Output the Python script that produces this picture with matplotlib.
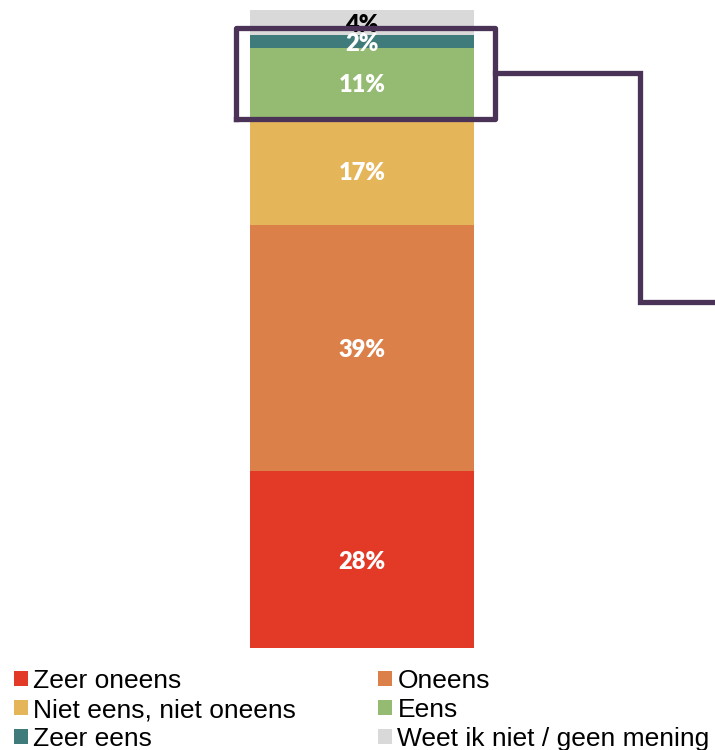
import matplotlib
matplotlib.use('Agg')
import matplotlib.pyplot as plt
from matplotlib.patches import Patch

categories = ['Zeer oneens', 'Oneens', 'Niet eens, niet oneens', 'Eens', 'Zeer eens',
              'Weet ik niet / geen mening']
values = [28, 39, 17, 11, 2, 4]
labels = ['28%', '39%', '17%', '11%', '2%', '4%']
colors = ['#E23A26', '#DC804A', '#E5B55A', '#95BB72', '#3E7B7A', '#D9D9D9']
label_colors = ['white', 'white', 'white', 'white', 'white', 'black']

fig = plt.figure(figsize=(7.15, 7.5), dpi=100)
# bar spans pixel rows 10..648, columns 250..474
ax = fig.add_axes([0, 102 / 750, 1, 638 / 750])
ax.set_xlim(-362 / 224, (715 - 362) / 224)
ax.set_ylim(0, sum(values))
ax.axis('off')

bottom = 0
for v, lab, c, lc in zip(values, labels, colors, label_colors):
    ax.bar(0, v, width=1, bottom=bottom, color=c, edgecolor='none')
    ax.text(0, bottom + v / 2, lab, ha='center', va='center_baseline', color=lc,
            fontsize=17, fontweight='heavy', family='Lato', zorder=5)
    bottom += v

# highlight box around "Eens" + "Zeer eens" and connector line
box_col = '#4B3358'
tot = sum(values)
def py(p):
    return (648 - p) / 638 * tot
def px(p):
    return (p - 362) / 224

bx0, bx1 = px(236), px(495)
by0, by1 = py(119), py(28)
ax.plot([bx0, bx1, bx1, bx0, bx0], [by0, by0, by1, by1, by0], color=box_col,
        lw=3.8, solid_joinstyle='round', clip_on=False, zorder=6)
ax.plot([bx1, px(640), px(640), px(730)], [py(73), py(73), py(302), py(302)],
        color=box_col, lw=3.8, solid_joinstyle='miter', clip_on=False, zorder=6)

handles = [Patch(facecolor=c, edgecolor='none', label=n) for c, n in zip(colors, categories)]
order = [0, 2, 4, 1, 3, 5]
fig.legend([handles[i] for i in order], [categories[i] for i in order], ncol=2,
           loc='upper left', bbox_to_anchor=(14 / 715, 1 - 669 / 750), frameon=False,
           prop={'family': 'Liberation Sans', 'size': 19},
           handlelength=0.53, handleheight=0.53, handletextpad=0.2,
           labelspacing=0.19, columnspacing=3.11, borderaxespad=0, borderpad=0)

fig.savefig('out.png', dpi=100)
